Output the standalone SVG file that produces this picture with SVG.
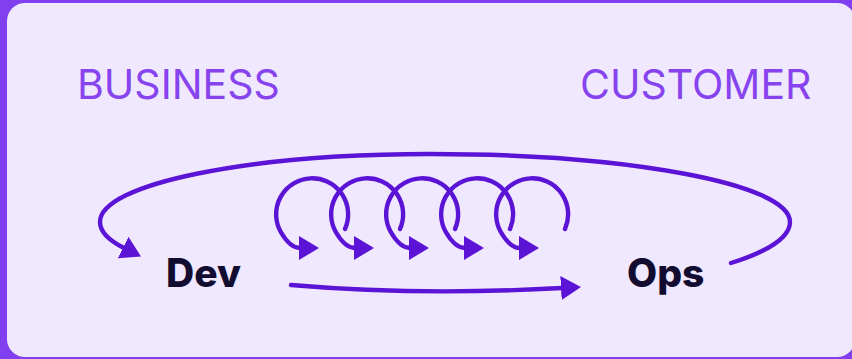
<svg xmlns="http://www.w3.org/2000/svg" width="852" height="359" viewBox="0 0 852 359">
<style>
.lbl{font-family:Inter,"Noto Sans","Liberation Sans",sans-serif;font-size:41px;fill:#8743ee;font-weight:400}
.node{font-family:Inter,"Noto Sans","Liberation Sans",sans-serif;font-size:39px;fill:#120c30;font-weight:800}
.arr{fill:none;stroke:#5b14d6;stroke-width:4.4;stroke-linecap:round}
</style>
<defs>
<marker id="ah" viewBox="0 0 20 24" refX="1" refY="12" markerWidth="20" markerHeight="24" markerUnits="userSpaceOnUse" orient="auto">
<path d="M0,0 L20,12 L0,24 z" fill="#5b14d6"/>
</marker>
</defs>
<rect x="0" y="0" width="852" height="359" fill="#8040f0"/>
<rect x="7" y="3" width="848" height="354" rx="18" ry="18" fill="#f0e8fe"/>
<g id="business"><text class="lbl" x="77" y="99">BUSINESS</text></g>
<g id="customer"><text class="lbl" x="580" y="99">CUSTOMER</text></g>
<g id="dev"><text class="node" x="166" y="287">Dev</text></g>
<g id="ops"><text class="node" x="627" y="287">Ops</text></g>
<g id="connectors">
<path class="arr" marker-end="url(#ah)" d="M731,263 C760,254 790,240 790,222 C790,184 629,154 430,154 C248,154 100,184 100,222 C100,233 112,242 124,248"/>
<path class="arr" marker-end="url(#ah)" d="M291,285 Q420,296 562,288"/>
<path class="arr" marker-end="url(#ah)" d="M345,229 A36,36 0 1 0 280.8,232 Q290,248 300,248"/>
<path class="arr" marker-end="url(#ah)" d="M400,229 A36,36 0 1 0 335.8,232 Q345,248 355,248"/>
<path class="arr" marker-end="url(#ah)" d="M455,229 A36,36 0 1 0 390.8,232 Q400,248 410,248"/>
<path class="arr" marker-end="url(#ah)" d="M510,229 A36,36 0 1 0 445.8,232 Q455,248 465,248"/>
<path class="arr" marker-end="url(#ah)" d="M565,229 A36,36 0 1 0 500.8,232 Q510,248 520,248"/>
</g>
</svg>
